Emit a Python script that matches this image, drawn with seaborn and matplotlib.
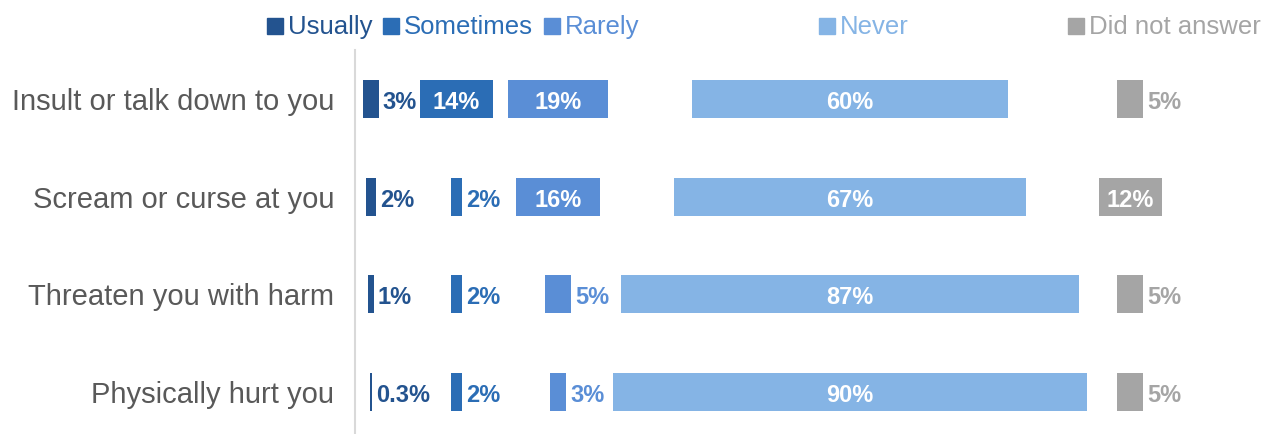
import matplotlib
matplotlib.use("Agg")
import matplotlib.pyplot as plt
import seaborn as sns
import pandas as pd
import numpy as np

# ---------------- data ----------------
questions = ["Insult or talk down to you", "Scream or curse at you",
             "Threaten you with harm", "Physically hurt you"]
categories = ["Usually", "Sometimes", "Rarely", "Never", "Did not answer"]
usually = [3, 2, 1, 0.3]
sometimes = [14, 2, 2, 2]
rarely = [19, 16, 5, 3]
never = [60, 67, 87, 90]
did_not_answer = [5, 12, 5, 5]

# ---------------- styling / layout ----------------
colors = ["#23538F", "#2B6DB5", "#5A8ED6", "#85B4E5", "#A5A5A5"]
col_centers = [3.04, 19.3, 38.6, 94.1, 147.4]      # column centres in axis units
legend_px = [267, 383, 544, 819, 1068]             # legend square left edges (px)
W, H, DPI = 1270, 434, 100
PX_PER_UNIT = 5.26
AX_LEFT_PX = 355
INSIDE_MIN = 8
PT = 72 / DPI  # points per pixel

sns.set_theme(style="white")
plt.rcParams["font.family"] = ["Liberation Sans", "DejaVu Sans"]

df = pd.DataFrame({
    "question": np.repeat(questions, len(categories)),
    "category": categories * len(questions),
    "value": np.ravel(np.column_stack([usually, sometimes, rarely, never, did_not_answer])),
})

fig = plt.figure(figsize=(W / DPI, H / DPI), dpi=DPI)
ax_top_px, ax_bot_px = 50, 434
ax = fig.add_axes([AX_LEFT_PX / W, 1 - ax_bot_px / H,
                   1 - AX_LEFT_PX / W, (ax_bot_px - ax_top_px) / H])

row_sp = 97.7
y0_px = 99
for cat, col, ctr in zip(categories, colors, col_centers):
    sub = df[df["category"] == cat].reset_index(drop=True)
    lefts = (ctr - sub["value"] / 2).to_numpy()
    sns.barplot(data=sub, y="question", x="value", order=questions, orient="y",
                color=col, saturation=1, width=0.39, errorbar=None,
                left=lefts, linewidth=0, ax=ax)
    for i, v in enumerate(sub["value"]):
        txt = f"{v:g}%"
        if v >= INSIDE_MIN:
            ax.annotate(txt, xy=(ctr, i), xytext=(0, -10 * PT),
                        textcoords="offset points", ha="center", va="baseline",
                        color="white", fontsize=17, fontweight="bold")
        else:
            ax.annotate(txt, xy=(ctr + v / 2, i), xytext=(4 * PT, -10 * PT),
                        textcoords="offset points", ha="left", va="baseline",
                        color=col, fontsize=17, fontweight="bold")

ax.set_xlim(0, (W - AX_LEFT_PX) / PX_PER_UNIT)
top_u = -(y0_px - ax_top_px) / row_sp
bot_u = (ax_bot_px - y0_px) / row_sp
ax.set_ylim(bot_u, top_u)
ax.set_xlabel("")
ax.set_ylabel("")
ax.set_xticks([])
ax.tick_params(axis="y", length=0, pad=15, labelsize=21, labelcolor="#595959")
for s in ["top", "right", "bottom"]:
    ax.spines[s].set_visible(False)
ax.spines["left"].set_color("#D9D9D9")
ax.spines["left"].set_linewidth(1.5)

# legend (manual, coloured text)
leg_y = 1 - 27 / H
for cat, col, lx in zip(categories, colors, legend_px):
    fig.patches.append(plt.Rectangle((lx / W, 1 - 34 / H), 16 / W, 16 / H,
                                     transform=fig.transFigure, color=col))
    fig.text((lx + 21) / W, leg_y, cat, color=col, fontsize=18.5,
             ha="left", va="center")

fig.savefig("out.png", dpi=DPI)
